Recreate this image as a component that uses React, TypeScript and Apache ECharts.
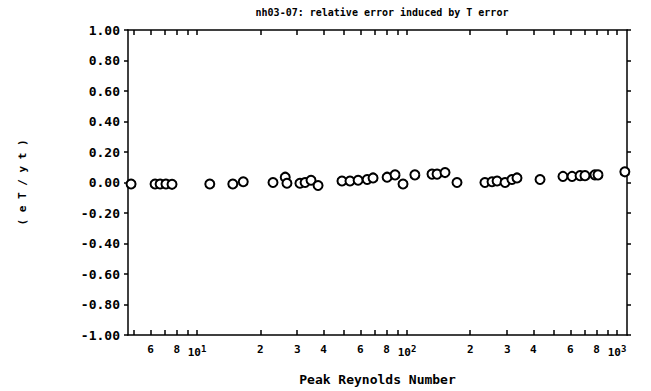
import React, { useEffect, useRef } from "react";
import * as echarts from "echarts";

// Peak Reynolds number of each run (x, log axis) and relative error (y)
const reynolds = [
  4.85, 6.31, 6.67, 7.11, 7.6, 11.5, 14.8, 16.6, 23.0, 26.3, 26.8, 30.9, 32.7, 34.9,
  37.7, 49.0, 53.5, 58.5, 64.6, 68.9, 80.4, 87.7, 95.7, 109, 131.5, 139, 151.7, 173,
  235, 254, 268.5, 293, 316, 334, 430, 553, 611, 667, 704, 785, 812, 1090,
];
const relErrors = [
  -0.01, -0.01, -0.01, -0.01, -0.012, -0.01, -0.01, 0.005, 0.0, 0.035, -0.005, -0.005, 0.0, 0.015,
  -0.02, 0.01, 0.01, 0.015, 0.02, 0.03, 0.035, 0.05, -0.01, 0.05, 0.055, 0.055, 0.065, 0.0,
  0.0, 0.005, 0.01, 0.0, 0.02, 0.03, 0.02, 0.04, 0.04, 0.045, 0.045, 0.05, 0.05, 0.07,
];

const xRange = [4.69, 1116];
const xTickValues = [
  5, 6, 7, 8, 9, 10, 20, 30, 40, 50, 60, 70, 80, 90, 100, 200, 300, 400, 500, 600, 700, 800,
  900, 1000,
];
const xLabelValues = [6, 8, 10, 20, 30, 40, 60, 80, 100, 200, 300, 400, 600, 800, 1000];
const yTicks = [-1, -0.8, -0.6, -0.4, -0.2, 0, 0.2, 0.4, 0.6, 0.8, 1];

const titleText = "nh03-07: relative error induced by T error";
const xName = "Peak Reynolds Number";
const yName = "( e T / y t )";

const FONT = "DejaVu Sans Mono";

export default function App() {
  const ref = useRef<HTMLDivElement>(null);
  useEffect(() => {
    if (!ref.current) return;
    const chart = echarts.init(ref.current, undefined, { renderer: "svg" });
    const lg = (v: number) => Math.log10(v);
    const lineStyle = { color: "#000", width: 1.5 };
    const xFormatter = (val: number) => {
      const v = Math.round(Math.pow(10, val));
      const e = Math.round(Math.log10(v));
      if (Math.abs(Math.pow(10, e) - v) < 1e-6) return `{n|10}{s|${e}}`;
      const lead = Math.round(v / Math.pow(10, Math.floor(Math.log10(v))));
      return `{n|${lead}}`;
    };
    const rich = {
      n: { fontFamily: FONT, fontWeight: "bold", fontSize: 11, color: "#000" },
      s: { fontFamily: FONT, fontWeight: "bold", fontSize: 9, color: "#000", padding: [0, 0, 8, 0] },
    };
    const option = {
      animation: false,
      backgroundColor: "#fff",
      title: {
        text: titleText,
        left: 377,
        top: 2,
        textAlign: "center",
        textStyle: { fontFamily: FONT, fontWeight: "bold", fontSize: 10, color: "#000" },
      },
      grid: { left: 128, right: 24, top: 30, bottom: 55 },
      xAxis: [
        {
          type: "value",
          position: "bottom",
          min: lg(xRange[0]),
          max: lg(xRange[1]),
          name: xName,
          nameLocation: "middle",
          nameGap: 38,
          nameTextStyle: { fontFamily: FONT, fontWeight: "bold", fontSize: 13, color: "#000" },
          axisLine: { show: true, onZero: false, lineStyle },
          axisTick: { show: true, inside: true, length: 5, customValues: xTickValues.map(lg), lineStyle },
          axisLabel: { customValues: xLabelValues.map(lg), formatter: xFormatter, rich, margin: 9 },
          splitLine: { show: false },
        },
        {
          type: "value",
          position: "top",
          min: lg(xRange[0]),
          max: lg(xRange[1]),
          axisLine: { show: true, onZero: false, lineStyle },
          axisTick: { show: true, inside: true, length: 5, customValues: xTickValues.map(lg), lineStyle },
          axisLabel: { show: false },
          splitLine: { show: false },
        },
      ],
      yAxis: [
        {
          type: "value",
          min: -1,
          max: 1,
          interval: 0.2,
          name: yName,
          nameLocation: "middle",
          nameGap: 100,
          nameRotate: 90,
          nameTextStyle: { fontFamily: FONT, fontWeight: "bold", fontSize: 11, color: "#000" },
          axisLine: { show: true, onZero: false, lineStyle },
          axisTick: { show: true, length: 4, lineStyle, customValues: yTicks },
          axisLabel: {
            customValues: yTicks,
            fontFamily: FONT,
            fontWeight: "bold",
            fontSize: 13,
            color: "#000",
            margin: 8,
            formatter: (v: number) => (Math.abs(v) < 1e-9 ? "0.00" : v.toFixed(2)),
          },
          splitLine: { show: false },
        },
        {
          type: "value",
          position: "right",
          min: -1,
          max: 1,
          interval: 0.2,
          axisLine: { show: true, onZero: false, lineStyle },
          axisTick: { show: true, length: 4, lineStyle },
          axisLabel: { show: false },
          splitLine: { show: false },
        },
      ],
      series: [
        {
          type: "scatter",
          xAxisIndex: 0,
          yAxisIndex: 0,
          data: reynolds.map((r, i) => [lg(r), relErrors[i]]),
          symbol: "emptyCircle",
          symbolSize: 9,
          itemStyle: { color: "#000", borderColor: "#000", borderWidth: 2, opacity: 1 },
          clip: true,
        },
      ],
    };
    chart.setOption(option as any);
    return () => chart.dispose();
  }, []);
  return (
    <div
      ref={ref}
      style={{ position: "fixed", left: 0, top: 0, width: 651, height: 391, background: "#fff" }}
    />
  );
}
